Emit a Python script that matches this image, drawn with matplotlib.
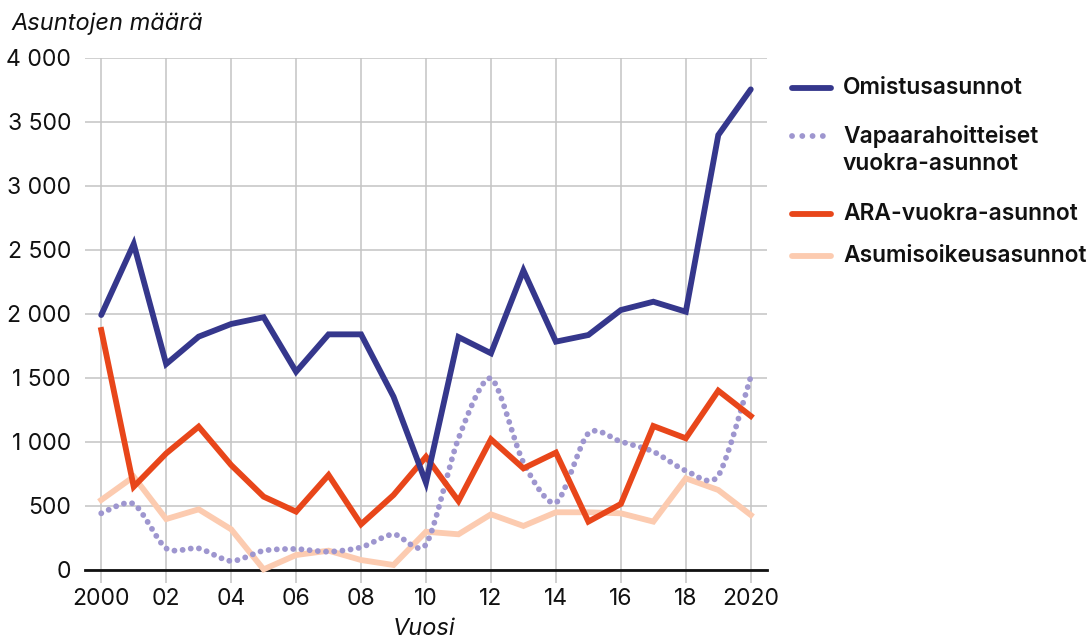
import numpy as np
import matplotlib
matplotlib.use("Agg")
import matplotlib.pyplot as plt
from matplotlib.lines import Line2D

plt.rcParams['font.family'] = ['Inter', 'DejaVu Sans']

years = list(range(2000, 2021))
omistus = [1992, 2547, 1609, 1823, 1922, 1975, 1549, 1841, 1841, 1354, 682,
           1820, 1693, 2340, 1784, 1836, 2031, 2096, 2018, 3398, 3755]
vapaarahoitteiset = [443, 516, 169, 169, 70, 151, 164, 143, 177, 279, 200,
                     1029, 1497, 839, 526, 1068, 1003, 925, 776, 737, 1510]
ara = [1875, 651, 911, 1120, 820, 573, 456, 742, 357, 586, 885,
       539, 1021, 794, 917, 378, 516, 1125, 1029, 1401, 1203]
asumisoikeus = [547, 729, 398, 474, 318, 5, 117, 151, 78, 39, 299,
                279, 435, 344, 451, 451, 443, 378, 716, 625, 430]

labels = ["Omistusasunnot", "Vapaarahoitteiset\nvuokra-asunnot",
          "ARA-vuokra-asunnot", "Asumisoikeusasunnot"]
colors = ["#35378C", "#9E96CF", "#E8461A", "#FCCBB0"]

xtick_vals = list(range(2000, 2021, 2))
xtick_labels = ["2000", "02", "04", "06", "08", "10", "12", "14", "16", "18", "2020"]
ytick_vals = list(range(0, 4001, 500))
ytick_labels = ["0", "500", "1 000", "1 500", "2 000", "2 500", "3 000", "3 500", "4 000"]


def smooth_curve(x, y, steps=24, tension=0.4):
    """Cardinal spline through the points, like a spreadsheet 'smoothed line'."""
    x = np.asarray(x, float)
    y = np.asarray(y, float)
    px = np.concatenate([[x[0]], x, [x[-1]]])
    py = np.concatenate([[y[0]], y, [y[-1]]])
    t = np.linspace(0, 1, steps, endpoint=False)
    h00 = 2 * t**3 - 3 * t**2 + 1
    h10 = t**3 - 2 * t**2 + t
    h01 = -2 * t**3 + 3 * t**2
    h11 = t**3 - t**2
    xs, ys = [], []
    for i in range(1, len(px) - 2):
        for arr, out in ((px, xs), (py, ys)):
            p0, p1, p2, p3 = arr[i - 1], arr[i], arr[i + 1], arr[i + 2]
            m1 = tension * (p2 - p0)
            m2 = tension * (p3 - p1)
            out.extend(h00 * p1 + h10 * m1 + h01 * p2 + h11 * m2)
    xs.append(x[-1])
    ys.append(y[-1])
    return np.array(xs), np.array(ys)


W, H = 1092, 639
fig = plt.figure(figsize=(W / 100, H / 100), dpi=100)
ax = fig.add_axes([85 / W, 1 - 570 / H, (767 - 85) / W, (570 - 58) / H])

ax.set_xlim(1999.5, 2020.5)
ax.set_ylim(0, 4000)

grid_c = "#C4C4C4"
ax.set_yticks(ytick_vals)
ax.set_yticklabels(ytick_labels)
ax.set_xticks(xtick_vals)
ax.set_xticklabels(xtick_labels)
ax.grid(True, color=grid_c, linewidth=1.1)
ax.set_axisbelow(True)
ax.tick_params(axis='y', length=0, pad=10, labelsize=16.5, labelcolor="#111111")
ax.tick_params(axis='x', length=9, width=1.1, color=grid_c, pad=4,
               labelsize=16.5, labelcolor="#111111")
for s in ["top", "right", "left"]:
    ax.spines[s].set_visible(False)
ax.spines["bottom"].set_linewidth(2)
ax.spines["bottom"].set_color("#111111")
ax.spines["bottom"].set_zorder(1.5)

lw = 4.2
ax.plot(years, asumisoikeus, color=colors[3], lw=lw, solid_joinstyle='miter',
        clip_on=False, zorder=3)
sx, sy = smooth_curve(years, vapaarahoitteiset)
ax.plot(sx, sy, color=colors[1], lw=4.2, linestyle=(0, (0.01, 1.4)),
        dash_capstyle='round', clip_on=False, zorder=4)
ax.plot(years, ara, color=colors[2], lw=lw, solid_joinstyle='miter',
        clip_on=False, zorder=5)
ax.plot(years, omistus, color=colors[0], lw=lw, solid_joinstyle='miter',
        solid_capstyle='round', clip_on=False, zorder=6)

fig.text(11 / W, 1 - 24 / H, "Asuntojen määrä", fontsize=17, style='italic',
         ha='left', va='center', color="#111111")
fig.text(424 / W, 1 - 629 / H, "Vuosi", fontsize=17, style='italic',
         ha='center', va='center', color="#111111")

# legend, drawn in figure pixel coordinates
entries = [
    (88, 88, dict(color=colors[0], lw=lw, solid_capstyle='round')),
    (136, 150, dict(color=colors[1], lw=4.2, linestyle=(0, (0.01, 1.75)),
                    dash_capstyle='round')),
    (214, 214, dict(color=colors[2], lw=lw, solid_capstyle='round')),
    (256, 256, dict(color=colors[3], lw=lw, solid_capstyle='round')),
]
for (ly, ty, style), lab in zip(entries, labels):
    fig.add_artist(Line2D([792 / W, 831 / W], [1 - ly / H, 1 - ly / H],
                          transform=fig.transFigure, **style))
    fig.text(843 / W, 1 - ty / H, lab, fontsize=16.4, fontweight='semibold',
             ha='left', va='center', color="#111111", linespacing=1.32)

fig.savefig("out.png", dpi=100)
